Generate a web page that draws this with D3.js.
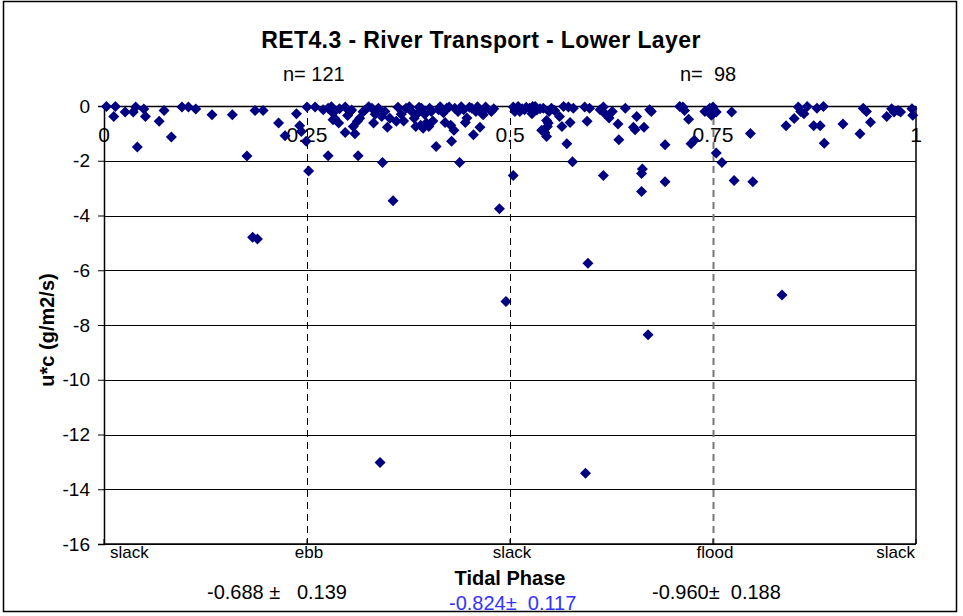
<!DOCTYPE html>
<html>
<head>
<meta charset="utf-8">
<script src="https://cdn.jsdelivr.net/npm/d3@7"></script>
<style>
  body { margin: 0; background: #fff; }
  text { font-family: "Liberation Sans", Arial, sans-serif; fill: #000; }
</style>
</head>
<body>
<div id="chart"></div>
<script>
/****************************************/
/*****  Data   *****/
/****************************************/
// [tidal phase, u*c], first half of the cycle (slack -> ebb -> slack)
const ebbHalf = [
  [0.003, -0.02], [0.014, -0.02], [0.012, -0.38], [0.026, -0.22], [0.036, -0.22], [0.039, -0.04],
  [0.049, -0.11], [0.051, -0.38], [0.041, -1.5], [0.068, -0.56], [0.074, -0.16], [0.083, -1.13],
  [0.096, -0.04], [0.104, -0.04], [0.113, -0.11], [0.133, -0.32], [0.158, -0.32], [0.176, -1.83],
  [0.183, -4.79], [0.189, -4.86], [0.186, -0.16], [0.196, -0.16], [0.215, -0.62], [0.223, -1.09],
  [0.237, -0.28], [0.241, -0.72], [0.243, -0.93], [0.250, -0.04], [0.249, -1.29], [0.252, -2.37],
  [0.260, -0.04], [0.270, -0.14], [0.276, -1.82], [0.276, -0.08], [0.280, -0.03], [0.282, -0.26],
  [0.284, -0.45], [0.282, -0.5], [0.289, -0.62], [0.290, -0.1], [0.297, -0.04], [0.297, -0.97],
  [0.300, -0.35], [0.303, -0.21], [0.305, -0.15], [0.307, -0.75], [0.309, -1.01], [0.312, -0.56],
  [0.313, -1.82], [0.315, -0.45], [0.319, -0.21], [0.321, -0.16], [0.326, -0.03], [0.330, -0.08],
  [0.332, -0.62], [0.334, -0.3], [0.336, -0.15], [0.338, -0.08], [0.340, -13.02], [0.342, -0.38],
  [0.343, -2.06], [0.346, -0.2], [0.349, -0.78], [0.352, -0.45], [0.356, -3.46], [0.360, -0.56],
  [0.362, -0.05], [0.366, -0.3], [0.369, -0.55], [0.372, -0.08], [0.376, -0.03], [0.379, -0.2],
  [0.382, -0.45], [0.384, -0.75], [0.386, -0.27], [0.388, -0.05], [0.390, -0.7], [0.391, -0.08],
  [0.393, -0.81], [0.395, -0.3], [0.397, -0.62], [0.400, -0.75], [0.401, -0.08], [0.403, -0.2],
  [0.405, -0.55], [0.409, -1.48], [0.412, -0.14], [0.414, -0.03], [0.418, -0.25], [0.420, -0.6],
  [0.422, -0.08], [0.425, -0.04], [0.427, -0.7], [0.428, -1.29], [0.431, -0.89], [0.432, -0.08],
  [0.436, -0.2], [0.438, -2.06], [0.440, -0.03], [0.443, -0.14], [0.445, -0.6], [0.447, -0.44],
  [0.450, -0.05], [0.453, -0.08], [0.455, -1.05], [0.458, -0.2], [0.460, -0.03], [0.463, -0.78],
  [0.465, -0.25], [0.467, -0.32], [0.470, -0.04], [0.477, -0.2], [0.480, -0.1], [0.487, -3.75],
  [0.495, -7.14]
];

// second half of the cycle (slack -> flood -> slack)
const floodHalf = [
  [0.504, -0.04], [0.504, -2.54], [0.506, -0.2], [0.510, -0.02], [0.512, -0.2], [0.515, -0.1],
  [0.518, -0.14], [0.520, -0.05], [0.524, -0.08], [0.527, -0.28], [0.528, -0.02], [0.531, -0.02],
  [0.533, -0.15], [0.537, -0.1], [0.541, -0.08], [0.539, -0.89], [0.543, -0.98], [0.545, -0.53],
  [0.547, -0.62], [0.546, -0.75], [0.545, -1.11], [0.548, -0.2], [0.551, -0.08], [0.555, -0.16],
  [0.561, -0.38], [0.564, -0.75], [0.566, -0.02], [0.570, -1.38], [0.572, -0.04], [0.574, -0.6],
  [0.577, -2.04], [0.578, -0.08], [0.592, -0.04], [0.593, -13.42], [0.595, -0.56], [0.596, -5.74],
  [0.598, -0.08], [0.611, -0.14], [0.615, -0.04], [0.615, -2.54], [0.617, -0.28], [0.622, -0.44],
  [0.626, -0.2], [0.633, -0.66], [0.634, -1.23], [0.642, -0.08], [0.652, -0.78], [0.654, -0.87],
  [0.656, -0.38], [0.662, -2.47], [0.663, -2.30], [0.662, -3.12], [0.665, -0.78], [0.670, -8.36],
  [0.672, -0.14], [0.674, -0.2], [0.691, -1.42], [0.691, -2.77], [0.709, -0.02], [0.713, -0.04],
  [0.715, -0.16], [0.720, -0.48], [0.723, -1.38], [0.727, -1.25], [0.740, -0.2], [0.746, -0.08],
  [0.750, -0.28], [0.750, -0.04], [0.748, -0.34], [0.754, -0.22], [0.754, -1.72], [0.761, -2.06],
  [0.773, -0.22], [0.776, -2.72], [0.796, -1.0], [0.799, -2.77], [0.835, -6.9], [0.840, -0.72],
  [0.850, -0.46], [0.855, -0.04], [0.858, -0.2], [0.862, -0.28], [0.866, -0.02], [0.874, -0.72],
  [0.878, -0.08], [0.882, -0.72], [0.886, -0.02], [0.887, -1.36], [0.910, -0.66], [0.931, -1.01],
  [0.935, -0.08], [0.939, -0.2], [0.944, -0.59], [0.964, -0.38], [0.970, -0.1], [0.973, -0.22],
  [0.978, -0.16], [0.981, -0.22], [0.995, -0.1], [0.996, -0.34]
];

const phaseTicks = [0, 0.25, 0.5, 0.75, 1];
const phaseNames = ["slack", "ebb", "slack", "flood", "slack"];
const fluxTicks = [0, -2, -4, -6, -8, -10, -12, -14, -16];
const phaseDividers = [0.25, 0.5, 0.75];

const countLabels = ["n= 121", "n=  98"];
const meanLabels = ["-0.688 \u00b1   0.139", "-0.824\u00b1  0.117", "-0.960\u00b1  0.188"];

/****************************************/
/*****  Chart   *****/
/****************************************/
const width = 963;
const height = 616;
const plotLeft = 104;
const plotRight = 916;
const plotTop = 106;
const plotBottom = 544;

const svg = d3.select('#chart')
  .append('svg')
    .attr('width', width)
    .attr('height', height);

// outer frame
svg.append('rect')
    .attr('x', 3.5)
    .attr('y', 1.5)
    .attr('width', 953)
    .attr('height', 610)
    .attr('fill', 'none')
    .attr('stroke', '#000')
    .attr('stroke-width', 1.5);

const x = d3.scaleLinear()
  .domain([0, 1])
  .range([plotLeft, plotRight]);
const y = d3.scaleLinear()
  .domain([-16, 0])
  .range([plotBottom, plotTop]);

// horizontal gridlines
svg.append('g')
  .selectAll('line')
  .data(fluxTicks)
  .join('line')
    .attr('x1', plotLeft)
    .attr('x2', plotRight)
    .attr('y1', d => Math.round(y(d)) + 0.5)
    .attr('y2', d => Math.round(y(d)) + 0.5)
    .attr('stroke', '#000')
    .attr('stroke-width', d => d === 0 ? 1.5 : 1);

// right border of the plot
svg.append('line')
    .attr('x1', plotRight)
    .attr('x2', plotRight)
    .attr('y1', plotTop)
    .attr('y2', plotBottom)
    .attr('stroke', '#000')
    .attr('stroke-width', 1.5);

// dashed dividers between the phases
svg.append('g')
  .selectAll('line')
  .data(phaseDividers)
  .join('line')
    .attr('x1', d => Math.round(x(d)) + 0.5)
    .attr('x2', d => Math.round(x(d)) + 0.5)
    .attr('y1', y(0))
    .attr('y2', y(-16))
    .attr('stroke', d => d === 0.75 ? '#777' : '#000')
    .attr('stroke-width', d => d === 0.75 ? 2 : 1)
    .attr('stroke-dasharray', '7,5');

// left axis with ticks
const yAxis = svg.append('g')
    .attr('transform', `translate(${plotLeft},0)`)
    .call(d3.axisLeft(y).tickValues(fluxTicks).tickSize(6).tickPadding(8).tickFormat(d => String(d)));
yAxis.select('.domain').attr('stroke-width', 1.5);
yAxis.selectAll('text')
    .style('font-size', '19px')
    .style('font-family', '"Liberation Sans", Arial, sans-serif')
    .attr('fill', '#000');

// bottom axis line with small upward ticks and phase names
svg.append('line')
    .attr('x1', plotLeft)
    .attr('x2', plotRight)
    .attr('y1', plotBottom)
    .attr('y2', plotBottom)
    .attr('stroke', '#000')
    .attr('stroke-width', 1.5);
svg.append('g')
  .selectAll('line')
  .data(phaseTicks)
  .join('line')
    .attr('x1', d => x(d))
    .attr('x2', d => x(d))
    .attr('y1', plotBottom)
    .attr('y2', plotBottom - 5)
    .attr('stroke', '#000');
svg.append('g')
  .selectAll('text')
  .data(phaseNames)
  .join('text')
    .attr('x', (d, i) => i === 0 ? x(phaseTicks[i]) + 6 : i === phaseNames.length - 1 ? x(phaseTicks[i]) - 1 : x(phaseTicks[i]) + 2)
    .attr('y', plotBottom + 14)
    .attr('text-anchor', (d, i) => i === 0 ? 'start' : i === phaseNames.length - 1 ? 'end' : 'middle')
    .style('font-size', '17px')
    .text(d => d);

// phase value labels sitting on the zero line
svg.append('g')
  .selectAll('text')
  .data(phaseTicks)
  .join('text')
    .attr('x', d => x(d))
    .attr('y', y(0) + 36)
    .attr('text-anchor', 'middle')
    .style('font-size', '21px')
    .text(d => d);

// points
const diamond = 'M0,-5.5L5.5,0L0,5.5L-5.5,0Z';
svg.append('g')
  .selectAll('path')
  .data(ebbHalf.concat(floodHalf))
  .join('path')
    .attr('d', diamond)
    .attr('transform', d => `translate(${x(d[0])},${y(d[1])})`)
    .attr('fill', '#000080');

// titles and annotations
svg.append('text')
    .attr('x', 481)
    .attr('y', 48)
    .attr('text-anchor', 'middle')
    .style('font-size', '23px')
    .style('letter-spacing', '0.4px')
    .style('font-weight', 'bold')
    .text('RET4.3 - River Transport - Lower Layer');

svg.append('g')
  .selectAll('text')
  .data(countLabels)
  .join('text')
    .attr('x', (d, i) => [283, 680][i])
    .attr('y', 81)
    .style('font-size', '20px')
    .style('white-space', 'pre')
    .text(d => d);

svg.append('text')
    .attr('transform', `translate(54,330) rotate(-90)`)
    .attr('text-anchor', 'middle')
    .style('font-size', '20px')
    .style('font-weight', 'bold')
    .text('u*c (g/m2/s)');

svg.append('text')
    .attr('x', x(0.5))
    .attr('y', 585)
    .attr('text-anchor', 'middle')
    .style('font-size', '20px')
    .style('font-weight', 'bold')
    .text('Tidal Phase');

svg.append('g')
  .selectAll('text')
  .data(meanLabels)
  .join('text')
    .attr('x', (d, i) => [207, 449, 652][i])
    .attr('y', (d, i) => i === 1 ? 610 : 599)
    .style('font-size', '20px')
    .style('white-space', 'pre')
    .style('fill', (d, i) => i === 1 ? '#3333ff' : '#000')
    .text(d => d);
</script>
</body>
</html>
